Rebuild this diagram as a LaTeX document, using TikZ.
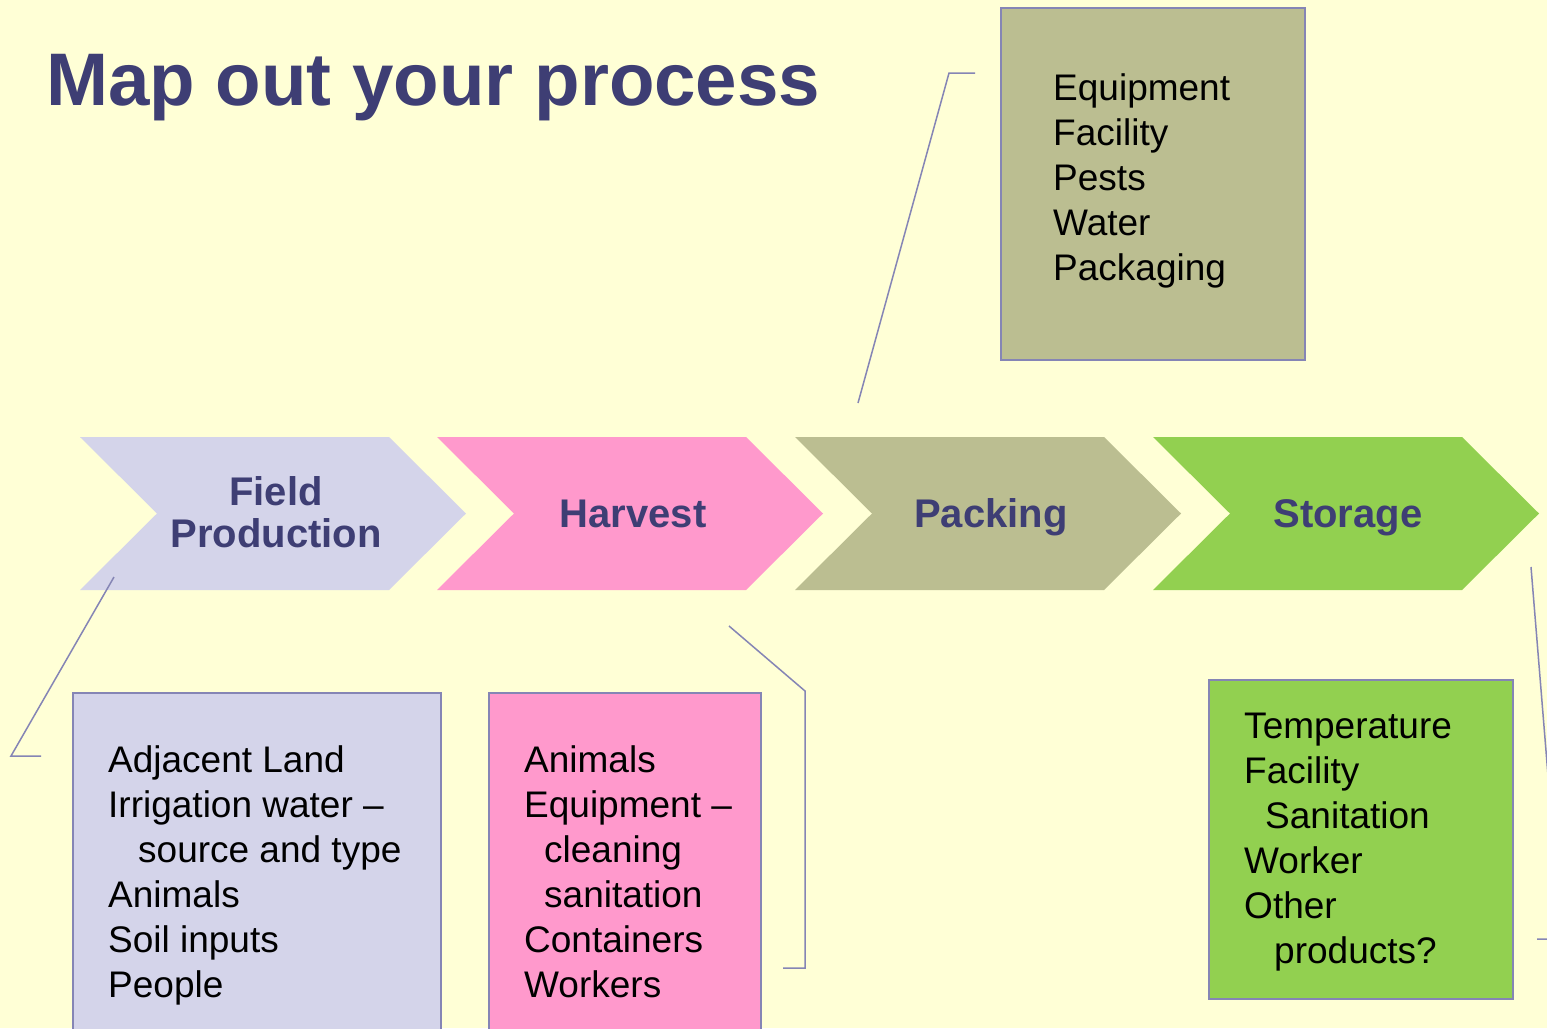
\documentclass[tikz,border=0pt]{standalone}
\usepackage{fontspec}
\setmainfont{Liberation Sans}
\definecolor{bgyellow}{HTML}{FFFFD6}
\definecolor{titleblue}{HTML}{3E3E74}
\definecolor{edgeblue}{HTML}{8585B5}
\definecolor{fieldfill}{HTML}{D4D4EA}
\definecolor{harvestfill}{HTML}{FF99CC}
\definecolor{packfill}{HTML}{BBBE91}
\definecolor{storefill}{HTML}{92D050}
\begin{document}
\begin{tikzpicture}[x=1pt,y=-1pt,
  stagelabel/.style={font=\bfseries\fontsize{40}{42}\selectfont,text=titleblue,align=center,anchor=base,inner sep=0pt},
  listbox/.style={draw=edgeblue,line width=1.6pt,anchor=north west,inner sep=0pt},
  listtext/.style={font=\fontsize{37}{45}\selectfont,text=black,align=left,anchor=base west,inner sep=0pt},
  leader/.style={draw=edgeblue,line width=1.5pt}]
  % canvas
  \fill[bgyellow] (0,0) rectangle (1547,1028);
  \useasboundingbox (0,0) rectangle (1547,1028);
  \clip (0,0) rectangle (1547,1028);

  % title
  \node[font=\bfseries\fontsize{74.5}{80}\selectfont,text=titleblue,anchor=base west,inner sep=0pt]
    (title) at (46,105) {Map out your process};

  % process chevrons
  \foreach \x/\col in {80/fieldfill,437/harvestfill,795/packfill,1153/storefill}{
    \fill[\col] (\x,437) -- ++(309,0) -- ++(77,76.5) -- ++(-77,76.5) -- ++(-309,0)
      -- ++(77,-76.5) -- cycle;
  }
  % multi-line nodes sit on the baseline of their last line
  \node[stagelabel] (field) at (276,547) {Field\\Production};
  \node[stagelabel] (harvest) at (633,527) {Harvest};
  \node[stagelabel] (packing) at (991,527) {Packing};
  \node[stagelabel] (storage) at (1348,527) {Storage};

  % detail boxes
  \node[listbox,fill=packfill,minimum width=304pt,minimum height=352pt] (packbox) at (1000,7) {};
  \node[listtext] (packtext) at (1053,280)
    {Equipment\\Facility\\Pests\\Water\\Packaging};

  \node[listbox,fill=fieldfill,minimum width=368pt,minimum height=360pt] (fieldbox) at (72,692) {};
  \node[listtext] (fieldtext) at (108,997)
    {Adjacent Land\\Irrigation water --\\\hspace*{30pt}source and type\\Animals\\Soil inputs\\People};

  \node[listbox,fill=harvestfill,minimum width=272pt,minimum height=360pt] (harvestbox) at (488,692) {};
  \node[listtext] (harvesttext) at (524,997)
    {Animals\\Equipment --\\\hspace*{20pt}cleaning\\\hspace*{20pt}sanitation\\Containers\\Workers};

  \node[listbox,fill=storefill,minimum width=304pt,minimum height=319pt] (storebox) at (1208,679) {};
  \node[listtext] (storetext) at (1244,963)
    {Temperature\\Facility\\\hspace*{21pt}Sanitation\\Worker\\Other\\\hspace*{30pt}products?};

  % callout leaders
  \coordinate (fa) at (114,577);
  \coordinate (fb) at (11,756);
  \coordinate (fc) at (41,756);
  \draw[leader] (fa) -- (fb) -- (fc);

  \coordinate (ha) at (729,626);
  \coordinate (hb) at (805,691);
  \coordinate (hc) at (805,968);
  \coordinate (hd) at (783,968);
  \draw[leader] (ha) -- (hb) -- (hc) -- (hd);

  \coordinate (pa) at (858,403);
  \coordinate (pb) at (949,73);
  \coordinate (pc) at (975,73);
  \draw[leader] (pa) -- (pb) -- (pc);

  \coordinate (sa) at (1531,567);
  \coordinate (sb) at (1550,800);
  \coordinate (sc) at (1550,939);
  \coordinate (sd) at (1537,939);
  \draw[leader] (sa) -- (sb) -- (sc) -- (sd);
\end{tikzpicture}
\end{document}
